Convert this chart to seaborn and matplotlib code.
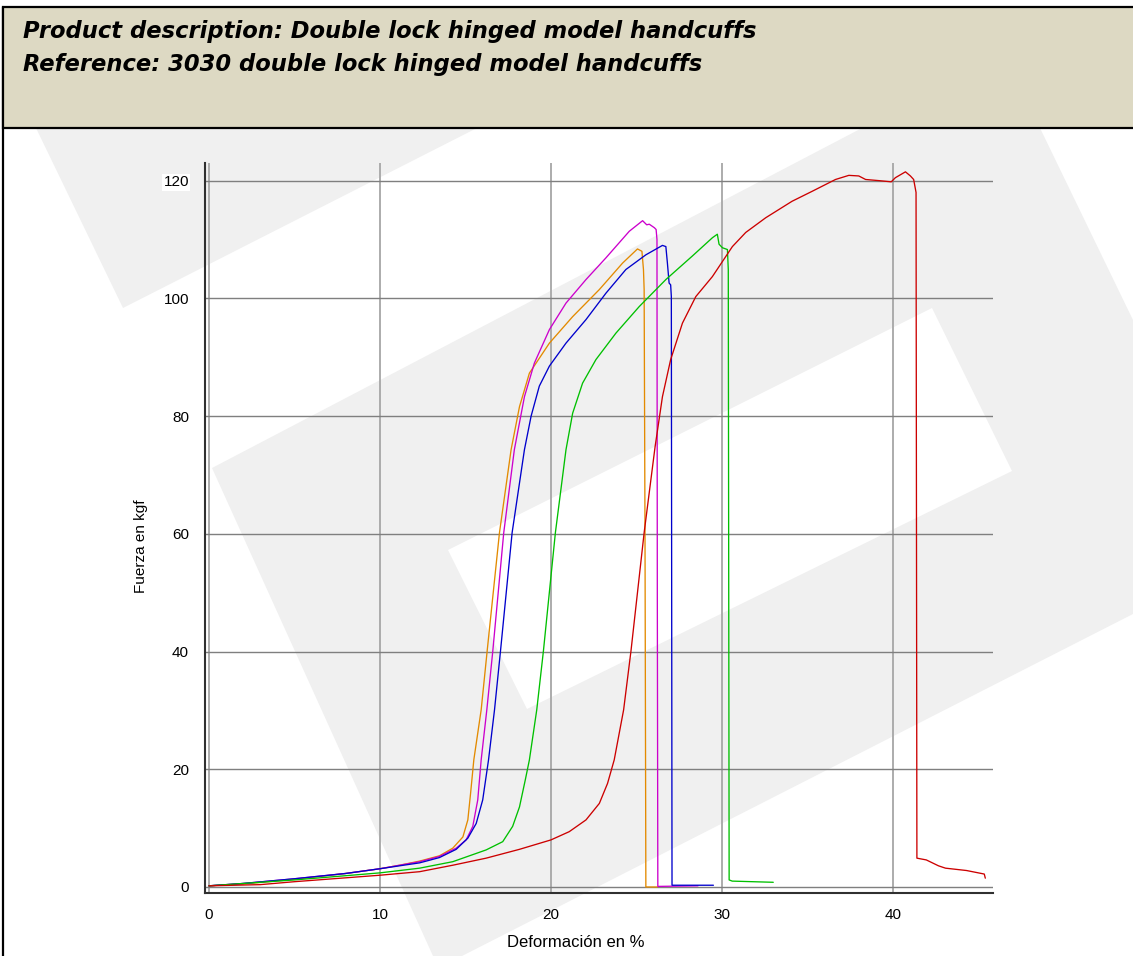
import numpy as np
import pandas as pd
import seaborn as sns
import matplotlib.pyplot as plt
from matplotlib.patches import Polygon, Rectangle
from matplotlib.lines import Line2D
from matplotlib.ticker import MultipleLocator

sns.set_style('white')
plt.rcParams['font.family'] = ['Liberation Sans', 'DejaVu Sans']
plt.rcParams['text.color'] = 'black'
plt.rcParams['axes.labelcolor'] = 'black'
plt.rcParams['xtick.color'] = 'black'
plt.rcParams['ytick.color'] = 'black'

# curvas fuerza / deformacion
naranja_x = [0, 2, 5, 8, 10, 11.15, 12.32, 13.48, 14.26, 14.85, 15.14, 15.30, 15.49, 15.92, 16.27, 16.99,
             17.67, 18.16, 18.74, 19.91, 21.27, 22.83, 24.19, 25.06, 25.32, 25.41, 25.45, 25.5, 25.55, 26.23]
naranja_y = [0.2, 0.5, 1.3, 2.3, 3.1, 3.7, 4.4, 5.3, 6.6, 8.5, 11.4, 15.9, 21.6, 30.1, 40.1, 60.2,
             74.3, 81.6, 87.3, 92.4, 96.9, 101.5, 106.0, 108.4, 108.0, 104.9, 101.5, 60, 0, 0]

magenta_x = [0, 2, 5, 8, 10, 11.15, 12.32, 13.48, 14.46, 15.04, 15.43, 15.72, 15.92, 16.25, 16.6, 17.24,
             17.86, 18.45, 19.03, 19.91, 20.88, 22.05, 23.22, 24.58, 25.36, 25.6, 25.75, 26.05, 26.15,
             26.2, 26.22, 26.25, 28.6]
magenta_y = [0.2, 0.6, 1.4, 2.3, 3.1, 3.7, 4.3, 5.2, 6.6, 8.0, 10.3, 14.8, 21.6, 30.1, 40.1, 60.2,
             74.3, 83.3, 89.0, 94.7, 99.2, 103.2, 106.9, 111.4, 113.2, 112.5, 112.6, 112.0, 111.7,
             110, 50, 0.1, 0.2]

azul_x = [0, 2, 5, 8, 10, 11.15, 12.32, 13.48, 14.46, 15.14, 15.63, 16.01, 16.35, 16.7, 17.05, 17.73,
          18.45, 18.84, 19.32, 19.91, 20.88, 22.05, 23.22, 24.38, 25.55, 26.52, 26.72, 26.81, 26.91,
          27.0, 27.04, 27.06, 27.08, 29.5]
azul_y = [0.2, 0.6, 1.4, 2.3, 3.1, 3.6, 4.1, 5.0, 6.4, 8.3, 10.8, 14.8, 21.6, 30.1, 40.1, 60.2,
          74.3, 80, 85.1, 88.5, 92.4, 96.4, 100.9, 104.9, 107.4, 109.0, 108.8, 106.0, 102.6,
          102.3, 100.3, 50, 0.3, 0.3]

verde_x = [0, 5, 10, 12.32, 14.26, 16.21, 17.18, 17.76, 18.16, 18.5, 18.74, 19.17, 19.56, 20.26, 20.88,
           21.27, 21.85, 22.63, 23.8, 25.16, 26.72, 28.27, 29.44, 29.73, 29.83, 30.03, 30.32, 30.37,
           30.42, 30.6, 33.0]
verde_y = [0.2, 1.2, 2.4, 3.2, 4.3, 6.3, 7.7, 10.3, 13.6, 18.2, 21.6, 30.1, 40.1, 60.2, 74.3,
           80.5, 85.6, 89.6, 94.1, 98.6, 103.2, 107.2, 110.3, 110.9, 109.2, 108.6, 108.3, 104.9,
           1.2, 1.0, 0.8]

rojo_x = [0, 3, 5, 10, 12.32, 14.26, 16.21, 18.16, 20.0, 21.07, 22.05, 22.83, 23.31, 23.7, 24.25, 24.68,
          25.45, 26.09, 26.52, 27.0, 27.69, 28.47, 29.44, 30.61, 31.39, 32.56, 34.1, 35.28, 36.64,
          37.42, 38.0, 38.4, 39.2, 39.9, 40.14, 40.73, 41.02, 41.21, 41.35, 41.4, 41.95, 42.66,
          43.07, 44.3, 45.34, 45.4]
rojo_y = [0.2, 0.4, 0.9, 2.0, 2.6, 3.7, 4.9, 6.4, 8.0, 9.4, 11.4, 14.2, 17.6, 21.6, 30.1, 40.1,
          60.2, 74.8, 83.3, 89.6, 95.8, 100.3, 103.7, 108.8, 111.2, 113.7, 116.5, 118.2, 120.2,
          120.9, 120.8, 120.2, 120.0, 119.8, 120.5, 121.5, 120.8, 120.2, 118, 4.9, 4.6, 3.6,
          3.2, 2.8, 2.2, 1.5]

muestras = ['naranja', 'magenta', 'azul', 'verde', 'rojo']
colores = ['#E38A00', '#CC00CC', '#0000CC', '#00C000', '#CC0000']

df = pd.concat([
    pd.DataFrame({'def': naranja_x, 'fuerza': naranja_y, 'muestra': 'naranja'}),
    pd.DataFrame({'def': magenta_x, 'fuerza': magenta_y, 'muestra': 'magenta'}),
    pd.DataFrame({'def': azul_x, 'fuerza': azul_y, 'muestra': 'azul'}),
    pd.DataFrame({'def': verde_x, 'fuerza': verde_y, 'muestra': 'verde'}),
    pd.DataFrame({'def': rojo_x, 'fuerza': rojo_y, 'muestra': 'rojo'}),
], ignore_index=True)

W, H = 1133, 956
fig = plt.figure(figsize=(W / 100, H / 100), dpi=100)
fig.patch.set_facecolor('white')


def fp(pts):
    return [(x / W, 1 - y / H) for x, y in pts]


# marca de agua gris
fig.patches.append(Polygon(fp([(36, 128), (477, 128), (123, 308)]), closed=True,
                           transform=fig.transFigure, fc='#F0F0F0', ec='none', zorder=-3))
fig.patches.append(Polygon(fp([(212, 468), (862, 128), (1040, 128), (1133, 320), (1133, 614),
                               (462, 956), (433, 956)]), closed=True,
                           transform=fig.transFigure, fc='#F0F0F0', ec='none', zorder=-3))
fig.patches.append(Polygon(fp([(448, 550), (932, 308), (1012, 471), (527, 709)]), closed=True,
                           transform=fig.transFigure, fc='white', ec='none', zorder=-2))

# cabecera
fig.patches.append(Rectangle((3 / W, 1 - 128 / H), 1.0, 121 / H, transform=fig.transFigure,
                             fc='#DDD9C3', ec='black', lw=1.6, zorder=2))
fig.lines.append(Line2D([3 / W, 3 / W], [0, 1 - 7 / H], transform=fig.transFigure,
                        color='black', lw=1.6, zorder=2))
fig.text(23 / W, 1 - 38 / H, 'Product description: Double lock hinged model handcuffs',
         fontsize=16.3, fontweight='bold', style='italic', family=['DejaVu Sans'],
         va='baseline', zorder=3)
fig.text(23 / W, 1 - 71 / H, 'Reference: 3030 double lock hinged model handcuffs',
         fontsize=16.3, fontweight='bold', style='italic', family=['DejaVu Sans'],
         va='baseline', zorder=3)

ax = fig.add_axes([205 / W, 1 - 893 / H, 788 / W, 730 / H])
ax.set_facecolor('none')

sns.lineplot(data=df, x='def', y='fuerza', hue='muestra', hue_order=muestras, palette=colores,
             sort=False, estimator=None, legend=False, lw=0.95, ax=ax)

ax.set_xlim(-0.23, 45.85)
ax.set_ylim(-1.02, 123.0)
ax.xaxis.set_major_locator(MultipleLocator(10))
ax.xaxis.set_minor_locator(MultipleLocator(2))
ax.yaxis.set_major_locator(MultipleLocator(20))
ax.yaxis.set_minor_locator(MultipleLocator(10))

ax.grid(False)
for v in [0, 10, 20, 30, 40]:
    ax.axvline(v, color='#A6A6A6', lw=1.3, zorder=0.5)
for h in [0, 20, 40, 60, 80, 100, 120]:
    ax.axhline(h, color='#7F7F7F', lw=1.0, zorder=0.5)

for s in ['top', 'right']:
    ax.spines[s].set_visible(False)
for s in ['left', 'bottom']:
    ax.spines[s].set_color('#303030')
    ax.spines[s].set_linewidth(1.5)

ax.tick_params(axis='both', which='major', direction='inout', length=11, width=1.3,
               color='#202020', labelsize=11, labelcolor='black')
ax.tick_params(axis='both', which='minor', direction='inout', length=7, width=1.0, color='#202020')
ax.tick_params(axis='x', which='major', pad=5)
ax.tick_params(axis='y', which='major', pad=6)
for lbl in ax.get_yticklabels():
    lbl.set_bbox(dict(facecolor='white', edgecolor='none', pad=1))

ax.set_xlabel('Deformación en %', fontsize=12)
ax.set_ylabel('Fuerza en kgf', fontsize=11)
ax.xaxis.set_label_coords(0.47, -0.057)
ax.yaxis.set_label_coords(-0.072, 0.475)

fig.savefig('out.png', dpi=100)
